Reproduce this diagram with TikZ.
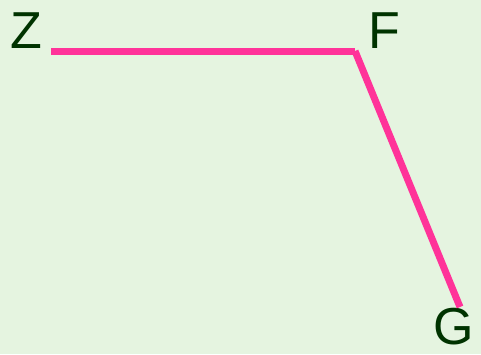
\documentclass[tikz,border=0pt]{standalone}
\usepackage{fontspec}
\setmainfont{Liberation Sans}
\usepackage{xcolor}
\usepackage{tikz}
\definecolor{bgGreen}{HTML}{E5F4E0}
\definecolor{lnPink}{HTML}{FF3399}
\definecolor{txGreen}{HTML}{003300}
\tikzset{PTnode/.style={text=txGreen,inner sep=0pt,font=\fontsize{52}{52}\selectfont}}
\tikzset{PTedge/.style={draw=lnPink,line width=7pt,line cap=butt}}

\begin{document}
\begin{tikzpicture}[x=1pt,y=-1pt]
	\fill[bgGreen] (0,0) rectangle (481,354);
	\useasboundingbox (0,0) rectangle (481,354);
	\coordinate (Z) at (51,51);
	\coordinate (F) at (355,51);
	\coordinate (G) at (460,307);
	\node[PTnode] (Zl) at (26,31) {Z};
	\node[PTnode] (Fl) at (384,31) {F};
	\node[PTnode] (Gl) at (454,327) {G};
	%
	\draw[PTedge] (Z) -- (F);
	\draw[PTedge] (F) -- (G);
\end{tikzpicture}
\end{document}
